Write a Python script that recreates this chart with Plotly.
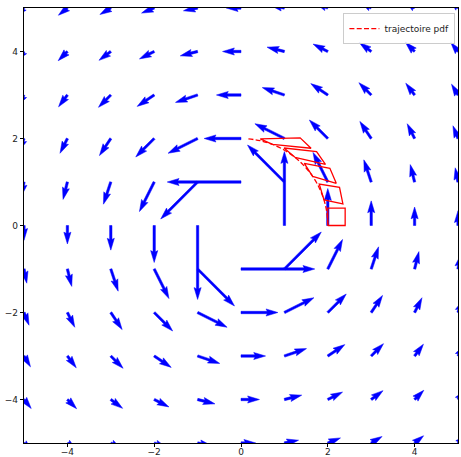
import numpy as np
import plotly.graph_objects as go

# ---------------- data ----------------
grid_x = [-5, -4, -3, -2, -1, 0, 1, 2, 3, 4, 5]
grid_y = [5, 4, 3, 2, 1, 0, -1, -2, -3, -4, -5]

# vector field components, rows follow grid_y (top to bottom), columns follow grid_x
u_rows = [
    [-0.100, -0.122, -0.147, -0.172, -0.192, -0.200, -0.192, -0.172, -0.147, -0.122, -0.100],
    [-0.098, -0.125, -0.160, -0.200, -0.235, -0.250, -0.235, -0.200, -0.160, -0.125, -0.098],
    [-0.088, -0.120, -0.167, -0.231, -0.300, -0.333, -0.300, -0.231, -0.167, -0.120, -0.088],
    [-0.069, -0.100, -0.154, -0.250, -0.400, -0.500, -0.400, -0.250, -0.154, -0.100, -0.069],
    [-0.038, -0.059, -0.100, -0.200, -0.500, -1.000, -0.500, -0.200, -0.100, -0.059, -0.038],
    [0.000, 0.000, 0.000, 0.000, 0.000, None, 0.000, 0.000, 0.000, 0.000, 0.000],
    [0.038, 0.059, 0.100, 0.200, 0.500, 1.000, 0.500, 0.200, 0.100, 0.059, 0.038],
    [0.069, 0.100, 0.154, 0.250, 0.400, 0.500, 0.400, 0.250, 0.154, 0.100, 0.069],
    [0.088, 0.120, 0.167, 0.231, 0.300, 0.333, 0.300, 0.231, 0.167, 0.120, 0.088],
    [0.098, 0.125, 0.160, 0.200, 0.235, 0.250, 0.235, 0.200, 0.160, 0.125, 0.098],
    [0.100, 0.122, 0.147, 0.172, 0.192, 0.200, 0.192, 0.172, 0.147, 0.122, 0.100],
]
v_rows = [
    [-0.100, -0.098, -0.088, -0.069, -0.038, 0.000, 0.038, 0.069, 0.088, 0.098, 0.100],
    [-0.122, -0.125, -0.120, -0.100, -0.059, 0.000, 0.059, 0.100, 0.120, 0.125, 0.122],
    [-0.147, -0.160, -0.167, -0.154, -0.100, 0.000, 0.100, 0.154, 0.167, 0.160, 0.147],
    [-0.172, -0.200, -0.231, -0.250, -0.200, 0.000, 0.200, 0.250, 0.231, 0.200, 0.172],
    [-0.192, -0.235, -0.300, -0.400, -0.500, 0.000, 0.500, 0.400, 0.300, 0.235, 0.192],
    [-0.200, -0.250, -0.333, -0.500, -1.000, None, 1.000, 0.500, 0.333, 0.250, 0.200],
    [-0.192, -0.235, -0.300, -0.400, -0.500, 0.000, 0.500, 0.400, 0.300, 0.235, 0.192],
    [-0.172, -0.200, -0.231, -0.250, -0.200, 0.000, 0.200, 0.250, 0.231, 0.200, 0.172],
    [-0.147, -0.160, -0.167, -0.154, -0.100, 0.000, 0.100, 0.154, 0.167, 0.160, 0.147],
    [-0.122, -0.125, -0.120, -0.100, -0.059, 0.000, 0.059, 0.100, 0.120, 0.125, 0.122],
    [-0.100, -0.098, -0.088, -0.069, -0.038, 0.000, 0.038, 0.069, 0.088, 0.098, 0.100],
]

# transported square (corners A, B, C, D) at successive times
shape_x = [
    [2.000, 2.400, 2.400, 2.000],
    [1.911, 2.348, 2.270, 1.804],
    [1.651, 2.195, 2.048, 1.458],
    [1.243, 1.946, 1.741, 0.992],
    [0.725, 1.614, 1.363, 0.444],
]
shape_y = [
    [0.000, 0.000, 0.400, 0.400],
    [0.591, 0.496, 0.875, 0.952],
    [1.129, 0.971, 1.314, 1.426],
    [1.567, 1.404, 1.699, 1.782],
    [1.864, 1.776, 2.015, 1.991],
]

# trajectory of the corner point (2, 0)
traj_x = [2.000, 1.978, 1.911, 1.801, 1.651, 1.463, 1.243, 0.995, 0.725, 0.438, 0.141]
traj_y = [0.000, 0.299, 0.591, 0.870, 1.129, 1.363, 1.567, 1.735, 1.864, 1.951, 1.995]
traj_label = "trajectoire pdf"

# ---------------- arrow geometry (matplotlib-quiver-like) ----------------
arrow_scale = 1.70      # data units per unit of vector magnitude
shaft_w = 0.0545        # shaft width in data units
HL, HW, HAL = 5.0, 3.0, 4.5

ax_pts, ay_pts = [], []
for j, yy in enumerate(grid_y):
    for i, xx in enumerate(grid_x):
        uu = u_rows[j][i]
        vv = v_rows[j][i]
        if uu is None or vv is None:
            continue
        mag = float(np.hypot(uu, vv))
        if mag == 0:
            continue
        L = arrow_scale * mag / shaft_w
        if L >= HL:
            pts = [(0, -0.5), (L - HAL, -0.5), (L - HL, -HW / 2), (L, 0),
                   (L - HL, HW / 2), (L - HAL, 0.5), (0, 0.5)]
        else:
            base = [(0, -0.5), (HL - HAL, -0.5), (0, -HW / 2), (HL, 0),
                    (0, HW / 2), (HL - HAL, 0.5), (0, 0.5)]
            k = L / HL
            pts = [(p * k, q * k) for p, q in base]
        pts = pts + [pts[0]]
        c, s = uu / mag, vv / mag
        for p, q in pts:
            ax_pts.append(xx + shaft_w * (p * c - q * s))
            ay_pts.append(yy + shaft_w * (p * s + q * c))
        ax_pts.append(None)
        ay_pts.append(None)

sx, sy = [], []
for xs, ys in zip(shape_x, shape_y):
    sx += list(xs) + [xs[0], None]
    sy += list(ys) + [ys[0], None]

fig = go.Figure()
fig.add_trace(go.Scatter(
    x=ax_pts, y=ay_pts, mode="lines", fill="toself",
    fillcolor="#0000ff", line=dict(color="#0000ff", width=0.5),
    showlegend=False, hoverinfo="skip"))
fig.add_trace(go.Scatter(
    x=sx, y=sy, mode="lines", line=dict(color="#ff0000", width=1.3),
    showlegend=False, hoverinfo="skip"))
fig.add_trace(go.Scatter(
    x=traj_x, y=traj_y, mode="lines", name=traj_label,
    line=dict(color="#ff0000", width=1.3, dash="5px,2.3px", shape="spline"),
    showlegend=True))

axis_common = dict(
    range=[-5, 5], tickvals=[-4, -2, 0, 2, 4], ticks="outside", ticklen=3.2,
    tickwidth=0.8, tickcolor="black", showline=True, linecolor="black",
    linewidth=1, mirror=True, showgrid=False, zeroline=False,
    tickfont=dict(family="DejaVu Sans", size=9, color="#222222"),
    automargin=False,
)

fig.update_layout(
    width=461, height=457,
    margin=dict(l=23.5, r=2.5, t=8.3, b=13.5, pad=0),
    paper_bgcolor="white", plot_bgcolor="white",
    xaxis=dict(axis_common, ticklabelstandoff=-3),
    yaxis=axis_common,
    showlegend=True,
    legend=dict(
        x=0.994, y=0.988, xanchor="right", yanchor="top",
        bgcolor="rgba(255,255,255,0.8)", bordercolor="#cccccc", borderwidth=1,
        font=dict(family="DejaVu Sans", size=9, color="#222222"),
        itemwidth=30, tracegroupgap=0,
    ),
)

fig.write_html(
    "out.html",
    config={"displayModeBar": False},
    post_script="document.body.style.margin='0';document.body.style.overflow='hidden';",
)
